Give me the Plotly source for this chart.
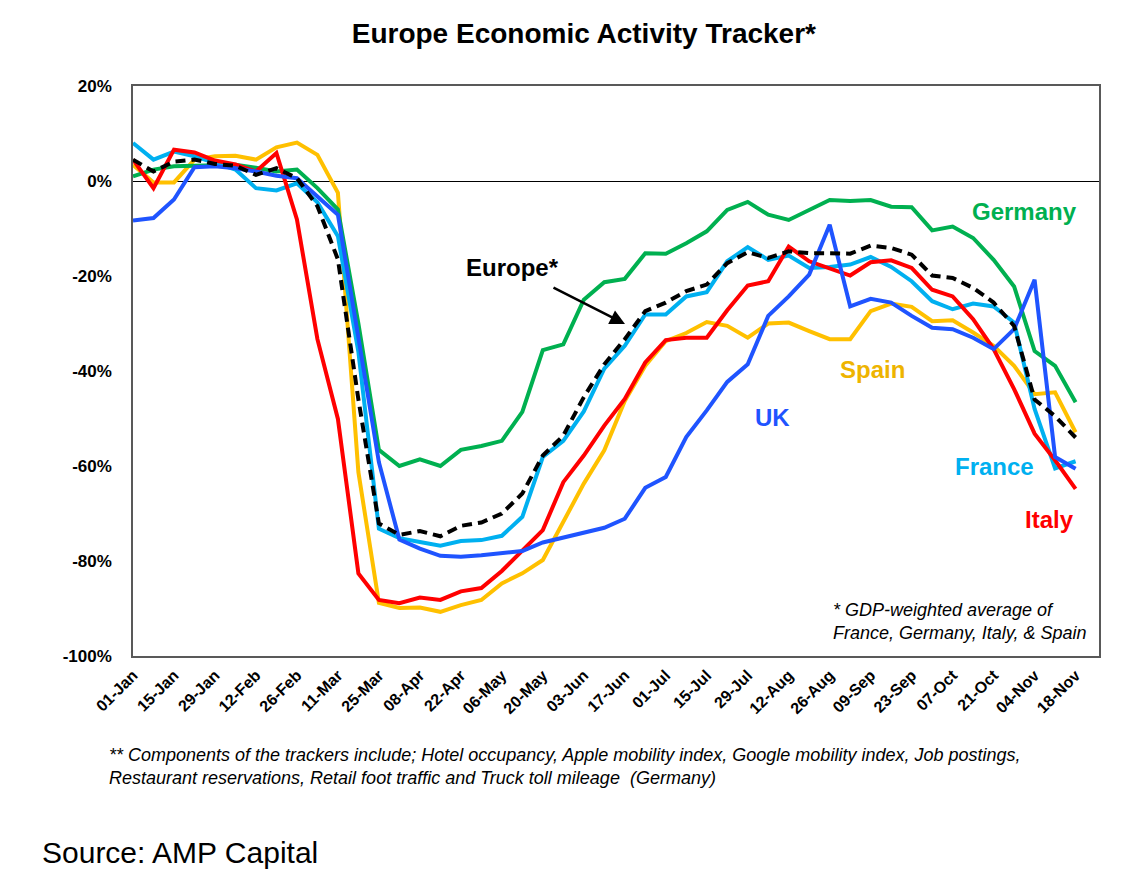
import pandas as pd
import plotly.graph_objects as go

# weekly observations, 01-Jan to 18-Nov 2020
weeks = pd.date_range("2020-01-01", periods=47, freq="7D")

germany = [1.0, 2.4, 3.1, 3.2, 3.4, 3.4, 2.8, 2.0, 2.4, -1.5, -6.0, -30.0,
           -56.6, -60.0, -58.6, -60.0, -56.6, -55.8, -54.7, -48.6, -35.6, -34.4,
           -25.0, -21.3, -20.6, -15.2, -15.3, -13.1, -10.6, -6.1, -4.4, -7.1,
           -8.2, -6.2, -4.0, -4.2, -4.0, -5.4, -5.5, -10.4, -9.6, -12.0, -16.6,
           -22.2, -35.8, -38.9, -46.6]
france = [8.0, 4.5, 6.2, 5.2, 3.8, 2.4, -1.5, -2.0, -0.5, -4.5, -11.6, -36.0,
          -73.2, -75.2, -76.0, -76.8, -75.8, -75.6, -74.7, -70.7, -58.1, -54.7,
          -48.5, -39.5, -34.7, -28.1, -28.1, -24.3, -23.4, -16.9, -13.9, -16.6,
          -15.7, -18.3, -18.1, -17.6, -16.0, -18.1, -21.1, -25.3, -27.0, -25.8,
          -26.4, -29.8, -48.0, -60.5, -59.0]
italy = [4.5, -1.5, 6.6, 6.0, 4.3, 3.5, 2.0, 5.9, -8.1, -33.3, -50.1, -82.6,
         -88.2, -88.9, -87.7, -88.2, -86.4, -85.7, -82.1, -77.7, -73.5, -63.4,
         -57.8, -51.5, -45.9, -38.2, -33.5, -33.0, -33.0, -27.2, -22.0, -21.1,
         -13.8, -16.9, -18.3, -19.9, -17.1, -16.7, -18.3, -22.9, -24.3, -29.1,
         -35.4, -43.8, -53.2, -58.8, -64.8]
spain = [3.4, -0.3, -0.3, 4.5, 5.2, 5.3, 4.5, 7.1, 8.1, 5.5, -2.5, -61.3,
         -88.8, -89.9, -89.8, -90.7, -89.3, -88.2, -84.7, -82.6, -79.8, -71.8,
         -63.7, -56.7, -46.3, -38.9, -33.7, -32.0, -29.7, -30.5, -33.0, -30.0,
         -29.8, -31.6, -33.3, -33.3, -27.4, -25.8, -26.5, -29.5, -29.3, -31.9,
         -34.7, -38.9, -44.9, -44.5, -52.9]
uk = [-8.3, -7.8, -3.9, 2.9, 3.1, 2.7, 2.0, 1.1, 0.6, -3.2, -7.1, -33.0,
      -59.2, -75.5, -77.4, -78.9, -79.1, -78.8, -78.4, -77.9, -76.1, -75.1,
      -73.9, -73.0, -71.1, -64.6, -62.3, -53.9, -48.3, -42.3, -38.6, -28.4,
      -24.3, -19.7, -9.2, -26.4, -24.8, -25.6, -28.4, -30.9, -31.2, -33.0,
      -35.4, -31.2, -20.8, -58.1, -60.6]
europe = [4.5, 2.0, 4.1, 4.5, 3.6, 3.2, 1.3, 2.7, 0.6, -5.3, -16.5, -46.0,
          -72.1, -74.5, -73.7, -74.8, -72.6, -71.9, -70.0, -65.8, -57.8, -53.6,
          -45.5, -38.6, -33.3, -27.4, -25.6, -23.2, -21.8, -17.3, -15.0, -16.2,
          -14.8, -15.2, -15.2, -15.3, -13.6, -14.1, -15.5, -19.9, -20.4, -22.5,
          -25.6, -30.5, -46.0, -49.5, -54.0]

y_ticks = [-100, -80, -60, -40, -20, 0, 20]
y_ticktext = ["-100%", "-80%", "-60%", "-40%", "-20%", "0%", "20%"]

FONT = "Liberation Sans, Arial, sans-serif"

series = [
    ("Spain", spain, "#FFC000", "solid"),
    ("Germany", germany, "#00B050", "solid"),
    ("France", france, "#00B0F0", "solid"),
    ("Italy", italy, "#FF0000", "solid"),
    ("UK", uk, "#1F54FF", "solid"),
    ("Europe*", europe, "#000000", "10px,6px"),
]

fig = go.Figure()
for name, vals, color, dash in series:
    fig.add_trace(go.Scatter(
        x=weeks, y=vals, mode="lines", name=name,
        line=dict(color=color, width=4, dash=dash),
        hovertemplate=name + ": %{y:.1f}%<extra></extra>",
    ))

# series labels placed on the plot area
labels = [
    ("Germany", 0.923, 0.779, "#00B050"),
    ("Europe*", 0.393, 0.681, "#000000"),
    ("Spain", 0.766, 0.502, "#EEB400"),
    ("UK", 0.6625, 0.419, "#1F54FF"),
    ("France", 0.892, 0.332, "#00B0F0"),
    ("Italy", 0.949, 0.240, "#FF0000"),
]
for text, xp, yp, color in labels:
    fig.add_annotation(
        x=xp, y=yp, xref="paper", yref="paper", text=f"<b>{text}</b>",
        xanchor="center", yanchor="middle",
        showarrow=False, font=dict(family=FONT, size=24, color=color),
    )

# arrow pointing at the Europe line
fig.add_annotation(
    x=0.5093, y=0.5825, xref="paper", yref="paper", text="",
    showarrow=True, ax=-73, ay=-37, arrowhead=2, arrowsize=1.2,
    arrowwidth=2.5, arrowcolor="#000000",
)

fig.add_annotation(
    x=0.7226, y=0.06, xref="paper", yref="paper", xanchor="left",
    yanchor="middle", align="left", showarrow=False,
    text="<i>* GDP-weighted average of<br>France, Germany, Italy, &amp; Spain</i>",
    font=dict(family=FONT, size=18, color="#000000"),
)

fig.add_annotation(
    x=-0.027, y=-0.193, xref="paper", yref="paper", xanchor="left",
    yanchor="middle", align="left", showarrow=False,
    text="<i>** Components of the trackers include; Hotel occupancy, Apple mobility index, "
         "Google mobility index, Job postings,<br>Restaurant reservations, Retail foot "
         "traffic and Truck toll mileage  (Germany)</i>",
    font=dict(family=FONT, size=18, color="#000000"),
)

fig.add_annotation(
    x=-0.0963, y=-0.344, xref="paper", yref="paper", xanchor="left",
    yanchor="middle", showarrow=False, text="Source: AMP Capital",
    font=dict(family=FONT, size=30, color="#000000"),
)

fig.update_layout(
    width=1116, height=882,
    margin=dict(l=125, r=25, t=78, b=234),
    paper_bgcolor="white", plot_bgcolor="white",
    showlegend=False,
    title=dict(
        text="<b>Europe Economic Activity Tracker*</b>",
        x=0.516, xanchor="center", y=0.9717, yanchor="middle",
        font=dict(family=FONT, size=28, color="#000000"),
    ),
    font=dict(family=FONT, color="#000000"),
)

fig.update_xaxes(
    range=["2020-01-01", "2020-11-26"],
    tick0="2020-01-01", dtick=14 * 86400000, tickformat="%d-%b",
    tickangle=-45,
    tickfont=dict(family=FONT, size=16, color="#000000", weight="bold"),
    showgrid=False, showline=True, mirror=True,
    linecolor="#595959", linewidth=1.5, ticks="", ticklabelstandoff=2,
)
fig.update_yaxes(
    range=[-100, 20], tickvals=y_ticks, ticktext=y_ticktext,
    tickfont=dict(family=FONT, size=17, color="#000000", weight="bold"),
    showgrid=False, showline=True, mirror=True,
    linecolor="#595959", linewidth=1.5, ticks="", ticklabelstandoff=16,
    zeroline=True, zerolinecolor="#000000", zerolinewidth=1.2,
)

fig.write_html("out.html")
